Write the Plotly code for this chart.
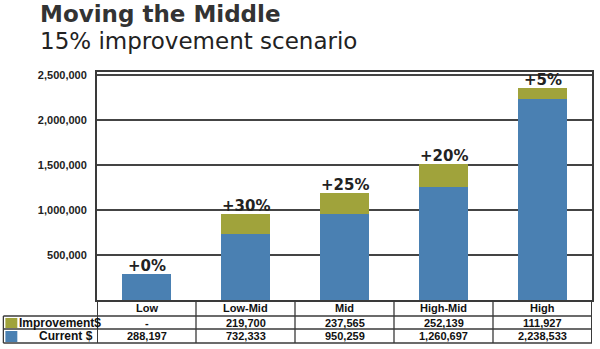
import plotly.graph_objects as go

categories = ["Low", "Low-Mid", "Mid", "High-Mid", "High"]
current = [288197, 732333, 950259, 1260697, 2238533]
improvement = [0, 219700, 237565, 252139, 111927]
improvement_labels = ["-", "219,700", "237,565", "252,139", "111,927"]
current_labels = ["288,197", "732,333", "950,259", "1,260,697", "2,238,533"]
pct_labels = ["+0%", "+30%", "+25%", "+20%", "+5%"]
ytick_vals = [500000, 1000000, 1500000, 2000000, 2500000]
ytick_text = ["500,000", "1,000,000", "1,500,000", "2,000,000", "2,500,000"]
series_names = ["Improvement$", "Current $"]

BLUE = "#4a80b2"
OLIVE = "#a0a33b"
DARK = "#222222"
LINE = "#3a3a3a"

W, H = 600, 349
L, R, T, B = 97, 6, 72, 49
PH = H - T - B  # plot height px
PW = W - L - R

def py(px):  # pixel y -> paper
    return (H - B - px) / PH

def px_x(px):
    return (px - L) / PW

fig = go.Figure()
fig.add_trace(go.Bar(x=categories, y=current, name=series_names[1], marker_color=BLUE,
                     marker_line_width=0, width=0.5))
fig.add_trace(go.Bar(x=categories, y=improvement, name=series_names[0], marker_color=OLIVE,
                     marker_line_width=0, width=0.5))

totals = [c + i for c, i in zip(current, improvement)]
ann = []
for cat, tot, lab in zip(categories, totals, pct_labels):
    ann.append(dict(x=cat, y=tot, xref="x", yref="y", text="<b>" + lab + "</b>", showarrow=False,
                    yanchor="bottom", yshift=-3, font=dict(family="DejaVu Sans", size=15, color=DARK)))

# table text
tfont = dict(family="Liberation Sans", size=11, color="#111111", weight="bold")
for cat, il, cl in zip(categories, improvement_labels, current_labels):
    for text, yy in [(cat, 308), (il, 322.5), (cl, 336)]:
        ann.append(dict(x=cat, y=py(yy), xref="x", yref="paper", text=text, showarrow=False,
                        xanchor="center", yanchor="middle", font=tfont))

lfont = dict(family="Liberation Sans", size=12, color="#111111", weight="bold")
ann.append(dict(x=px_x(17), y=py(322.5), xref="paper", yref="paper", text=series_names[0],
                showarrow=False, xanchor="left", yanchor="middle", font=lfont))
ann.append(dict(x=px_x(95), y=py(336), xref="paper", yref="paper", text=series_names[1],
                showarrow=False, xanchor="right", yanchor="middle", font=lfont))

# titles
ann.append(dict(x=px_x(39), y=py(14.5), xref="paper", yref="paper", text="<b>Moving the Middle</b>",
                showarrow=False, xanchor="left", yanchor="middle", borderpad=0,
                font=dict(family="DejaVu Sans", size=23, color="#333333")))
ann.append(dict(x=px_x(39), y=py(41), xref="paper", yref="paper", text="15% improvement scenario",
                showarrow=False, xanchor="left", yanchor="middle", borderpad=0,
                font=dict(family="DejaVu Sans", size=23, color="#222222")))

shapes = []
lw = 1.3
# table horizontal lines
for yy in [316, 329, 343]:
    shapes.append(dict(type="line", xref="paper", yref="paper", x0=px_x(3), x1=1, y0=py(yy), y1=py(yy),
                       line=dict(color=LINE, width=lw)))
# verticals
n = len(categories)
for k in range(n + 1):
    shapes.append(dict(type="line", xref="x", yref="paper", x0=k - 0.5, x1=k - 0.5, y0=py(343), y1=0,
                       line=dict(color=LINE, width=lw if 0 < k < n else 2)))
shapes.append(dict(type="line", xref="paper", yref="paper", x0=px_x(3), x1=px_x(3), y0=py(343), y1=py(316),
                   line=dict(color=LINE, width=lw)))
# legend swatches
for (y0, y1), col in [((318, 328), OLIVE), ((331, 342), BLUE)]:
    shapes.append(dict(type="rect", xref="paper", yref="paper", x0=px_x(5), x1=px_x(17), y0=py(y1), y1=py(y0),
                       fillcolor=col, line=dict(width=0)))

fig.update_layout(
    width=W, height=H, margin=dict(l=L, r=R, t=T, b=B),
    barmode="stack", showlegend=False, plot_bgcolor="white", paper_bgcolor="white",
    annotations=ann, shapes=shapes,
    xaxis=dict(range=[-0.5, n - 0.5], showticklabels=False, showgrid=False, zeroline=False,
               showline=True, linecolor=LINE, linewidth=2, mirror=True, ticks=""),
    yaxis=dict(range=[0, 2533000], tickvals=ytick_vals, ticktext=ytick_text, showgrid=True,
               gridcolor="#444444", gridwidth=1.5, zeroline=False, showline=True, linecolor=LINE,
               linewidth=2, mirror=True, ticks="", ticklabelstandoff=6,
               tickfont=dict(family="Liberation Sans", size=11, color=DARK, weight="bold")),
)
fig.write_html("out.html")
